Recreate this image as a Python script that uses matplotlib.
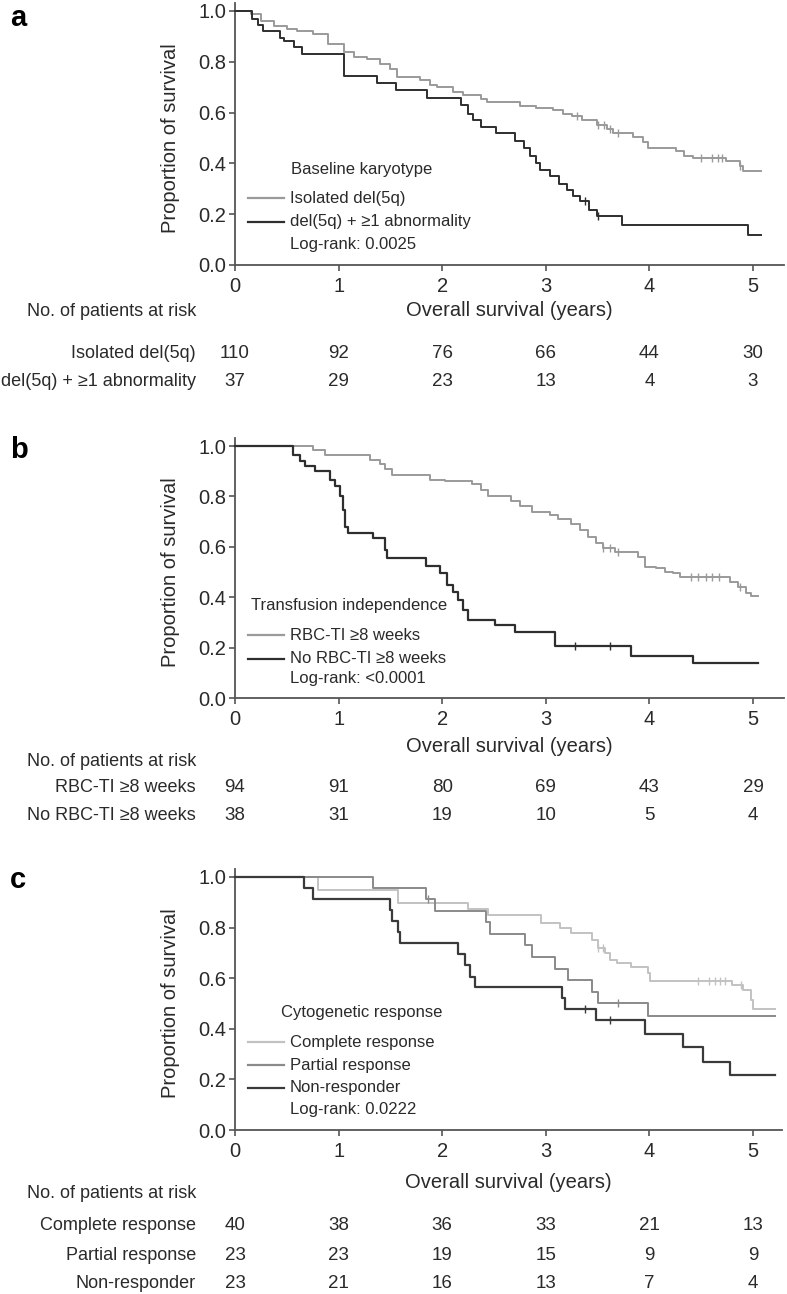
import numpy as np
import matplotlib
matplotlib.use("Agg")
import matplotlib.pyplot as plt
from matplotlib.transforms import blended_transform_factory

plt.rcParams['font.family'] = ['Liberation Sans', 'DejaVu Sans']

# ---- panel a: baseline karyotype ----
a_iso_t = [0, 0.15, 0.25, 0.38, 0.5, 0.6, 0.75, 0.9, 1.05, 1.15, 1.27, 1.4, 1.5, 1.56, 1.79,
           1.88, 1.95, 2.1, 2.2, 2.37, 2.43, 2.75, 2.91, 3.07, 3.17, 3.25, 3.35, 3.49, 3.59, 3.65,
           3.84, 3.94, 3.99, 4.26, 4.33, 4.42, 4.74, 4.87, 4.9, 5.08]
a_iso_s = [1.0, 0.99, 0.96, 0.94, 0.93, 0.92, 0.91, 0.87, 0.84, 0.82, 0.81, 0.79, 0.77, 0.74, 0.73,
           0.71, 0.70, 0.68, 0.67, 0.655, 0.64, 0.625, 0.617, 0.61, 0.595, 0.585, 0.57, 0.55, 0.535, 0.52,
           0.505, 0.485, 0.46, 0.45, 0.43, 0.42, 0.41, 0.39, 0.37, 0.37]
a_iso_cens = [3.30, 3.50, 3.56, 3.62, 3.70, 4.50, 4.60, 4.66, 4.70, 4.87]

a_abn_t = [0, 0.16, 0.22, 0.27, 0.43, 0.47, 0.57, 0.65, 1.05, 1.37, 1.55, 1.85, 2.18, 2.25, 2.30,
           2.37, 2.52, 2.70, 2.79, 2.85, 2.91, 2.94, 3.04, 3.13, 3.20, 3.26, 3.33, 3.42, 3.49, 3.74,
           4.95, 5.08]
a_abn_s = [1.0, 0.97, 0.945, 0.92, 0.895, 0.88, 0.86, 0.83, 0.745, 0.715, 0.69, 0.656, 0.63, 0.595, 0.57,
           0.545, 0.52, 0.49, 0.46, 0.43, 0.40, 0.375, 0.35, 0.32, 0.295, 0.27, 0.25, 0.215, 0.193, 0.157,
           0.118, 0.118]
a_abn_cens = [3.38, 3.50]

a_groups = ['Isolated del(5q)', 'del(5q) + \u22651 abnormality']
a_risk = [[110, 92, 76, 66, 44, 30],
          [37, 29, 23, 13, 4, 3]]

# ---- panel b: transfusion independence ----
b_ti_t = [0, 0.75, 0.87, 1.30, 1.40, 1.45, 1.52, 1.88, 2.03, 2.29, 2.37, 2.44, 2.66, 2.75, 2.87,
          3.04, 3.12, 3.24, 3.33, 3.41, 3.48, 3.55, 3.67, 3.89, 3.96, 4.06, 4.15, 4.23, 4.30, 4.78,
          4.86, 4.93, 4.98, 5.05]
b_ti_s = [1.0, 0.985, 0.965, 0.945, 0.93, 0.91, 0.885, 0.865, 0.86, 0.85, 0.826, 0.80, 0.78, 0.76, 0.74,
          0.727, 0.71, 0.69, 0.667, 0.64, 0.614, 0.595, 0.58, 0.56, 0.52, 0.515, 0.50, 0.495, 0.48, 0.46,
          0.44, 0.416, 0.405, 0.405]
b_ti_cens = [3.55, 3.62, 3.70, 4.40, 4.47, 4.55, 4.60, 4.67, 4.87]

b_no_t = [0, 0.56, 0.63, 0.68, 0.77, 0.92, 0.97, 1.01, 1.04, 1.06, 1.09, 1.33, 1.45, 1.47, 1.84,
          1.98, 2.05, 2.10, 2.15, 2.20, 2.25, 2.51, 2.70, 3.09, 3.82, 4.42, 5.05]
b_no_s = [1.0, 0.965, 0.94, 0.92, 0.90, 0.865, 0.84, 0.80, 0.746, 0.68, 0.654, 0.634, 0.588, 0.555, 0.522,
          0.495, 0.45, 0.42, 0.39, 0.35, 0.31, 0.29, 0.26, 0.205, 0.168, 0.139, 0.139]
b_no_cens = [3.28, 3.62]

b_groups = ['RBC-TI \u22658 weeks', 'No RBC-TI \u22658 weeks']
b_risk = [[94, 91, 80, 69, 43, 29],
          [38, 31, 19, 10, 5, 4]]

# ---- panel c: cytogenetic response ----
c_cr_t = [0, 0.80, 1.57, 2.25, 2.44, 2.95, 3.14, 3.24, 3.45, 3.50, 3.57, 3.62, 3.69, 3.82, 3.99,
          4.01, 4.80, 4.90, 4.98, 5.00, 5.21]
c_cr_s = [1.0, 0.95, 0.897, 0.875, 0.849, 0.82, 0.80, 0.78, 0.75, 0.72, 0.70, 0.67, 0.66, 0.645, 0.62,
          0.59, 0.572, 0.553, 0.513, 0.48, 0.48]
c_cr_cens = [3.50, 3.55, 4.47, 4.58, 4.63, 4.68, 4.73, 4.88]

c_pr_t = [0, 1.33, 1.84, 1.93, 2.42, 2.46, 2.80, 2.87, 3.09, 3.21, 3.45, 3.50, 3.99, 5.21]
c_pr_s = [1.0, 0.957, 0.913, 0.867, 0.822, 0.776, 0.73, 0.684, 0.638, 0.592, 0.546, 0.503, 0.451, 0.451]
c_pr_cens = [1.86, 3.70]

c_nr_t = [0, 0.67, 0.75, 1.50, 1.52, 1.57, 1.59, 2.15, 2.22, 2.27, 2.32, 3.16, 3.19, 3.48, 3.96,
          4.32, 4.52, 4.78, 5.21]
c_nr_s = [1.0, 0.957, 0.913, 0.87, 0.826, 0.783, 0.74, 0.697, 0.651, 0.605, 0.566, 0.52, 0.48, 0.434, 0.378,
          0.329, 0.27, 0.217, 0.217]
c_nr_cens = [3.38, 3.62]

c_groups = ['Complete response', 'Partial response', 'Non-responder']
c_risk = [[40, 38, 36, 33, 21, 13],
          [23, 23, 19, 15, 9, 9],
          [23, 21, 16, 13, 7, 4]]

years = [0, 1, 2, 3, 4, 5]

W, H = 787, 1294
AXIS_COL = '#555555'
TXT = '#2a2a2a'
FS_TICK = 14.5
FS_TAB = 13
FS_LEG = 12


def km(ax, t, s, cens, color, lw=1.4):
    t = np.asarray(t)
    s = np.asarray(s)
    ax.step(t, s, where='post', color=color, lw=lw, clip_on=False, zorder=3)
    idx = np.searchsorted(t, cens, side='right') - 1
    ax.plot(cens, s[idx], ls='none', marker='|', ms=6, mew=1.0, color=color, zorder=3)


def make_axes(fig, y0px, y1px, xmax):
    # y0px: pixel row of 0.0, y1px: pixel row of 1.0
    top = 1.03
    per = (y0px - y1px)
    left = 235 / W
    width = xmax * 103.6 / W
    ax = fig.add_axes([left, 1 - y0px / H, width, per * top / H])
    ax.set_xlim(0, xmax)
    ax.set_ylim(0, top)
    ax.set_xticks(years)
    ax.set_yticks([0, 0.2, 0.4, 0.6, 0.8, 1.0])
    ax.set_yticklabels(['0.0', '0.2', '0.4', '0.6', '0.8', '1.0'])
    for sp in ['top', 'right']:
        ax.spines[sp].set_visible(False)
    for sp in ['left', 'bottom']:
        ax.spines[sp].set_color(AXIS_COL)
        ax.spines[sp].set_linewidth(1.3)
    ax.tick_params(axis='both', direction='out', length=4.5, width=1.2, color=AXIS_COL,
                   labelsize=FS_TICK, labelcolor=TXT)
    ax.tick_params(axis='y', pad=2)
    ax.tick_params(axis='x', pad=4)
    ax.set_ylabel('Proportion of survival', fontsize=FS_TICK, color=TXT, va='center')
    ax.yaxis.set_label_coords(-0.118, 0.5 / top)
    return ax


def legend(ax, y0px, title, title_xpx, title_ypx, labels, colors, rows_ypx, extra, extra_ypx, per):
    tr = ax.transAxes
    ax.text((title_xpx - 235) / 550, (y0px - title_ypx) / per, title, transform=tr,
            fontsize=FS_LEG, color=TXT, va='center', ha='left')
    for lab, col, yp in zip(labels, colors, rows_ypx):
        yy = (y0px - yp) / per
        ax.plot([(248 - 235) / 550, (284 - 235) / 550], [yy, yy], transform=tr, color=col, lw=1.6,
                clip_on=False)
        ax.text((290 - 235) / 550, yy, lab, transform=tr, fontsize=FS_LEG, color=TXT,
                va='center', ha='left')
    ax.text((290 - 235) / 550, (y0px - extra_ypx) / per, extra, transform=tr, fontsize=FS_LEG,
            color=TXT, va='center', ha='left')


def risk_table(fig, ax, header_ypx, groups, risk, rows_ypx, xlabel_ypx):
    bt = blended_transform_factory(ax.transData, fig.transFigure)
    fig.text(196 / W, 1 - header_ypx / H, 'No. of patients at risk', ha='right', va='center',
             fontsize=FS_TAB, color=TXT)
    ax.text(0.5, 1 - xlabel_ypx / H, 'Overall survival (years)', ha='center', va='center',
            fontsize=FS_TICK, color=TXT,
            transform=blended_transform_factory(ax.transAxes, fig.transFigure))
    for g, r, yp in zip(groups, risk, rows_ypx):
        fig.text(196 / W, 1 - yp / H, g, ha='right', va='center', fontsize=FS_TAB, color=TXT)
        for x, n in zip(years, r):
            ax.text(x, 1 - yp / H, str(n), ha='center', va='center', fontsize=FS_TAB + 0.5,
                    color=TXT, transform=bt, clip_on=False)


fig = plt.figure(figsize=(W / 100, H / 100), dpi=100)

LIGHT = '#9a9a9a'
DARK = '#2e2e2e'

# panel a
ax = make_axes(fig, 265, 11, 5.3)
km(ax, a_iso_t, a_iso_s, a_iso_cens, LIGHT)
km(ax, a_abn_t, a_abn_s, a_abn_cens, DARK)
legend(ax, 265, 'Baseline karyotype', 291, 172, a_groups, [LIGHT, DARK], [200, 223],
       'Log-rank: 0.0025', 245, 254)
risk_table(fig, ax, 312, a_groups, a_risk, [353, 381], 311)
fig.text(10 / W, 1 - 4 / H, 'a', fontsize=21, weight='bold', va='top', ha='left')

# panel b
ax = make_axes(fig, 698, 446, 5.3)
km(ax, b_ti_t, b_ti_s, b_ti_cens, LIGHT)
km(ax, b_no_t, b_no_s, b_no_cens, DARK, lw=1.6)
legend(ax, 698, 'Transfusion independence', 251, 608, b_groups, [LIGHT, DARK], [637, 660],
       'Log-rank: <0.0001', 679, 252)
risk_table(fig, ax, 762, b_groups, b_risk, [788, 816], 747)
fig.text(10 / W, 1 - 436 / H, 'b', fontsize=21, weight='bold', va='top', ha='left')

# panel c
ax = make_axes(fig, 1130, 877, 5.28)
km(ax, c_cr_t, c_cr_s, c_cr_cens, '#c2c2c2')
km(ax, c_pr_t, c_pr_s, c_pr_cens, '#8a8a8a')
km(ax, c_nr_t, c_nr_s, c_nr_cens, '#3a3a3a', lw=1.6)
legend(ax, 1130, 'Cytogenetic response', 281, 1016, c_groups, ['#c2c2c2', '#8a8a8a', '#3a3a3a'],
       [1045, 1067, 1089], 'Log-rank: 0.0222', 1110, 253)
risk_table(fig, ax, 1193, c_groups, c_risk, [1225, 1255, 1283], 1183)
fig.text(10 / W, 1 - 866 / H, 'c', fontsize=21, weight='bold', va='top', ha='left')

fig.savefig('out.png', dpi=100)
